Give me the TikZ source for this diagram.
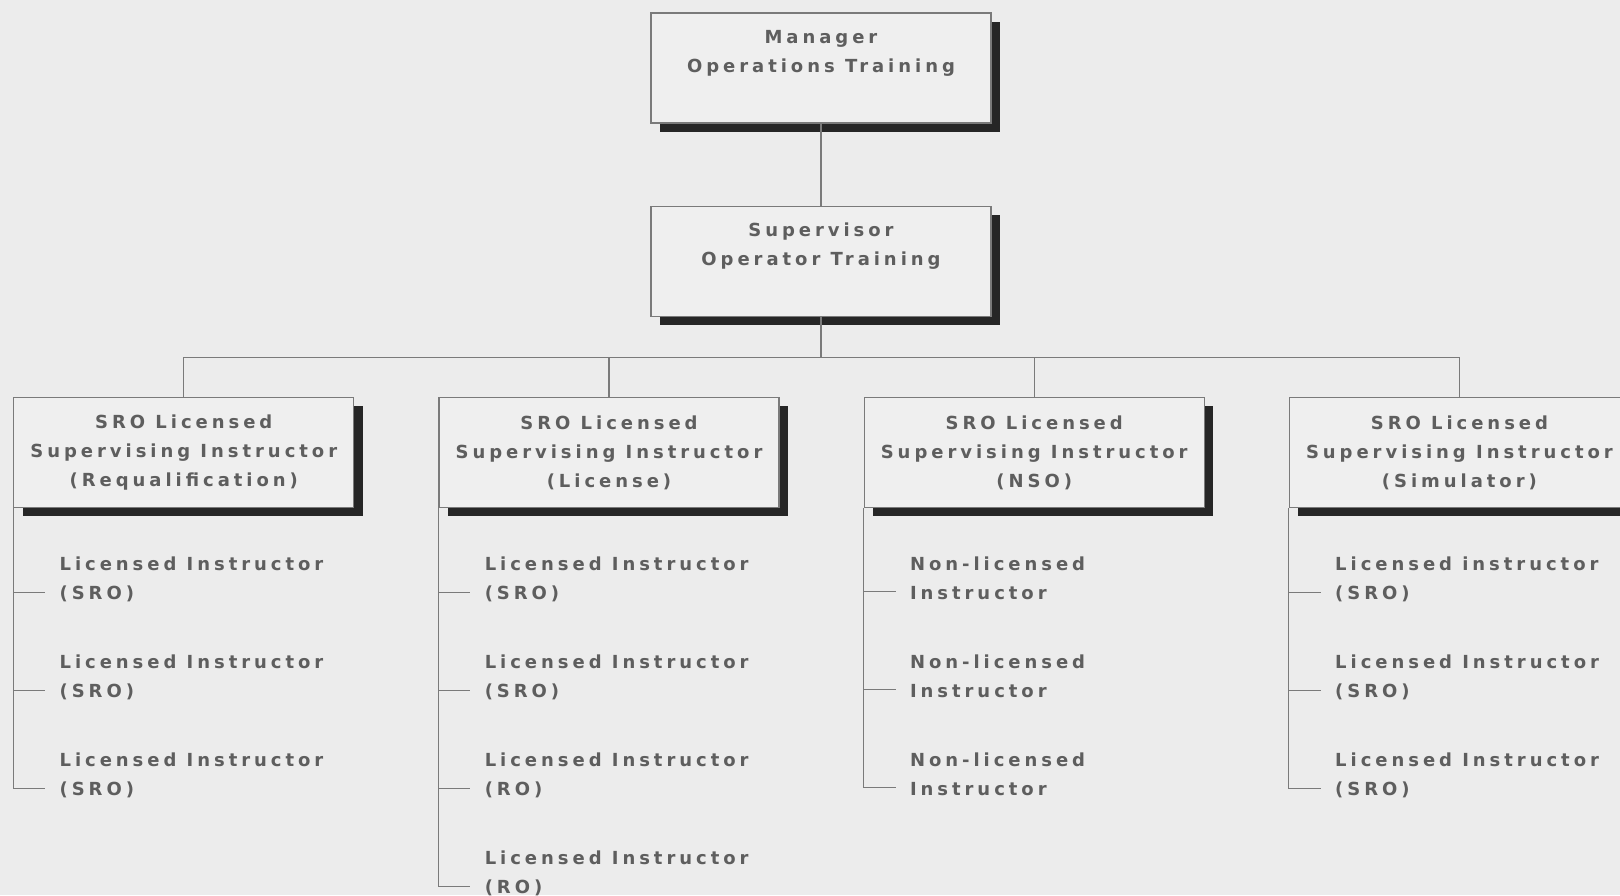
\documentclass[tikz,border=0pt]{standalone}
\usepackage{fontspec}
\setmainfont[LetterSpace=22,BoldFont={DejaVu Sans Bold}]{DejaVu Sans}
\usetikzlibrary{positioning, shadows, calc}
\definecolor{paper}{HTML}{ECECEC}
\definecolor{boxfill}{HTML}{EFEFEF}
\definecolor{inkgray}{HTML}{5E5E5E}
\definecolor{rulegray}{HTML}{7A7A7A}

\begin{document}
\begin{tikzpicture}[
  x=0.5pt, y=-0.5pt,
  font=\fontsize{9}{14.5}\selectfont\bfseries,
  node distance=41pt and 42pt,
  box/.style={rectangle, draw=rulegray, fill=boxfill, line width=0.6pt,
              minimum width=170pt, minimum height=55pt, align=center, text=inkgray, inner sep=2pt,
              drop shadow={shadow xshift=4.5pt, shadow yshift=-4.5pt, fill=black!85, opacity=1}},
  topbox/.style={box, text depth=17pt},
  item/.style={align=left, text=inkgray, inner xsep=7pt, inner ysep=1pt},
  link/.style={draw=rulegray, line width=0.6pt},
]
  \useasboundingbox (0,0) rectangle (1620,895);
  \fill[paper] (0,0) rectangle (1620,895);

  % management chain
  \node[topbox] (mgr) at (821,68) {Manager\\Operations Training};
  \node[topbox, below=of mgr] (sup) {Supervisor\\Operator Training};

  % supervising instructors
  \node[box, below=40pt of sup, xshift=-106pt] (lic) {SRO Licensed\\Supervising Instructor\\(License)};
  \node[box, left=of lic] (req) {SRO Licensed\\Supervising Instructor\\(Requalification)};
  \node[box, right=of lic] (nso) {SRO Licensed\\Supervising Instructor\\(NSO)};
  \node[box, right=of nso] (sim) {SRO Licensed\\Supervising Instructor\\(Simulator)};

  % instructors
  \node[item, below right=23pt and 16pt of req.south west] (req1) {Licensed Instructor\\(SRO)};
  \node[item, below=49pt of req1.north west, anchor=north west] (req2) {Licensed Instructor\\(SRO)};
  \node[item, below=49pt of req2.north west, anchor=north west] (req3) {Licensed Instructor\\(SRO)};

  \node[item, below right=23pt and 16pt of lic.south west] (lic1) {Licensed Instructor\\(SRO)};
  \node[item, below=49pt of lic1.north west, anchor=north west] (lic2) {Licensed Instructor\\(SRO)};
  \node[item, below=49pt of lic2.north west, anchor=north west] (lic3) {Licensed Instructor\\(RO)};
  \node[item, below=49pt of lic3.north west, anchor=north west] (lic4) {Licensed Instructor\\(RO)};

  \node[item, below right=23pt and 16pt of nso.south west] (nso1) {Non-licensed\\Instructor};
  \node[item, below=49pt of nso1.north west, anchor=north west] (nso2) {Non-licensed\\Instructor};
  \node[item, below=49pt of nso2.north west, anchor=north west] (nso3) {Non-licensed\\Instructor};

  \node[item, below right=23pt and 16pt of sim.south west] (sim1) {Licensed instructor\\(SRO)};
  \node[item, below=49pt of sim1.north west, anchor=north west] (sim2) {Licensed Instructor\\(SRO)};
  \node[item, below=49pt of sim2.north west, anchor=north west] (sim3) {Licensed Instructor\\(SRO)};

  % connectors
  \coordinate[below=20.5pt of sup.south] (bus);
  \draw[link] (mgr) -- (sup);
  \foreach \grp in {req,lic,nso,sim}
    \draw[link] (sup.south) -- (bus) -| (\grp.north);
  \foreach \grp/\last in {req/3,lic/4,nso/3,sim/3}
    \foreach \k in {1,...,\last}
      \draw[link] (\grp.south west) |- ([yshift=-6.8pt]\grp\k.west);
\end{tikzpicture}
\end{document}
